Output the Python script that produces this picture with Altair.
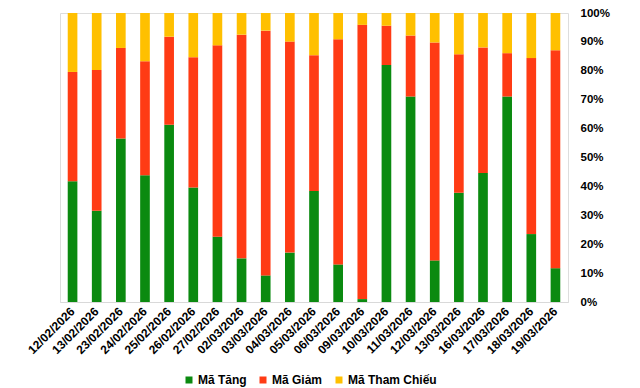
import altair as alt
import pandas as pd

dates = ["12/02/2026", "13/02/2026", "23/02/2026", "24/02/2026", "25/02/2026",
         "26/02/2026", "27/02/2026", "02/03/2026", "03/03/2026", "04/03/2026",
         "05/03/2026", "06/03/2026", "09/03/2026", "10/03/2026", "11/03/2026",
         "12/03/2026", "13/03/2026", "16/03/2026", "17/03/2026", "18/03/2026",
         "19/03/2026"]
series = ["Mã Tăng", "Mã Giảm", "Mã Tham Chiếu"]
tang = [41.8, 31.6, 56.6, 43.9, 61.3, 39.6, 22.6, 15.1, 9.2, 17.1, 38.4,
        13.0, 1.0, 82.0, 71.1, 14.4, 37.8, 44.6, 71.1, 23.5, 11.7]
giam = [37.8, 48.7, 31.3, 39.4, 30.5, 45.1, 66.2, 77.4, 84.7, 73.0, 47.0,
        77.9, 94.9, 13.6, 21.1, 75.4, 47.9, 43.5, 15.0, 60.9, 75.4]
tham_chieu = [20.4, 19.7, 12.1, 16.7, 8.2, 15.3, 11.2, 7.5, 6.1, 9.9, 14.6,
              9.1, 4.1, 4.4, 7.8, 10.2, 14.3, 11.9, 13.9, 15.6, 12.9]
colors = ["#0B8A10", "#FF3B14", "#FFC000"]

rows = []
for i, d in enumerate(dates):
    for k, (s, vals) in enumerate(zip(series, [tang, giam, tham_chieu])):
        rows.append({"date": d, "series": s, "value": vals[i], "order": k})
df = pd.DataFrame(rows)

FONT = "Liberation Sans"

chart = alt.Chart(df).mark_bar().encode(
    x=alt.X("date:N", sort=dates,
            scale=alt.Scale(paddingInner=0.6, paddingOuter=0.32),
            axis=alt.Axis(title=None, labelAngle=-45, labelAlign="right",
                          labelBaseline="middle", labelPadding=7,
                          labelFont=FONT, labelFontSize=12, labelFontWeight="bold",
                          labelColor="#000000", ticks=False,
                          domainColor="#D9D9D9", domainWidth=1)),
    y=alt.Y("value:Q", stack="normalize",
            scale=alt.Scale(domain=[0, 1], nice=False),
            axis=alt.Axis(title=None, orient="right", format=".0%",
                          values=[i / 10 for i in range(11)],
                          labelFont=FONT, labelFontSize=11.5, labelFontWeight="bold",
                          labelColor="#000000", labelPadding=12, labelAlign="left",
                          ticks=False, domain=False, grid=False)),
    color=alt.Color("series:N", sort=series,
                    scale=alt.Scale(domain=series, range=colors),
                    legend=alt.Legend(title=None, orient="none", direction="horizontal",
                                      legendX=123, legendY=361,
                                      symbolType="square", symbolSize=49,
                                      symbolStrokeWidth=0,
                                      labelFont=FONT, labelFontSize=12,
                                      labelFontWeight="bold", labelColor="#000000",
                                      labelOffset=3, columnPadding=10)),
    order=alt.Order("order:Q", sort="ascending"),
).properties(
    width=508, height=289,
    padding={"left": 52, "top": 5, "right": 60, "bottom": 86},
    autosize=alt.AutoSizeParams(type="none"),
).configure_view(stroke=None).configure(background="white")

chart.save("out.html", embed_options={"renderer": "svg", "actions": False})
